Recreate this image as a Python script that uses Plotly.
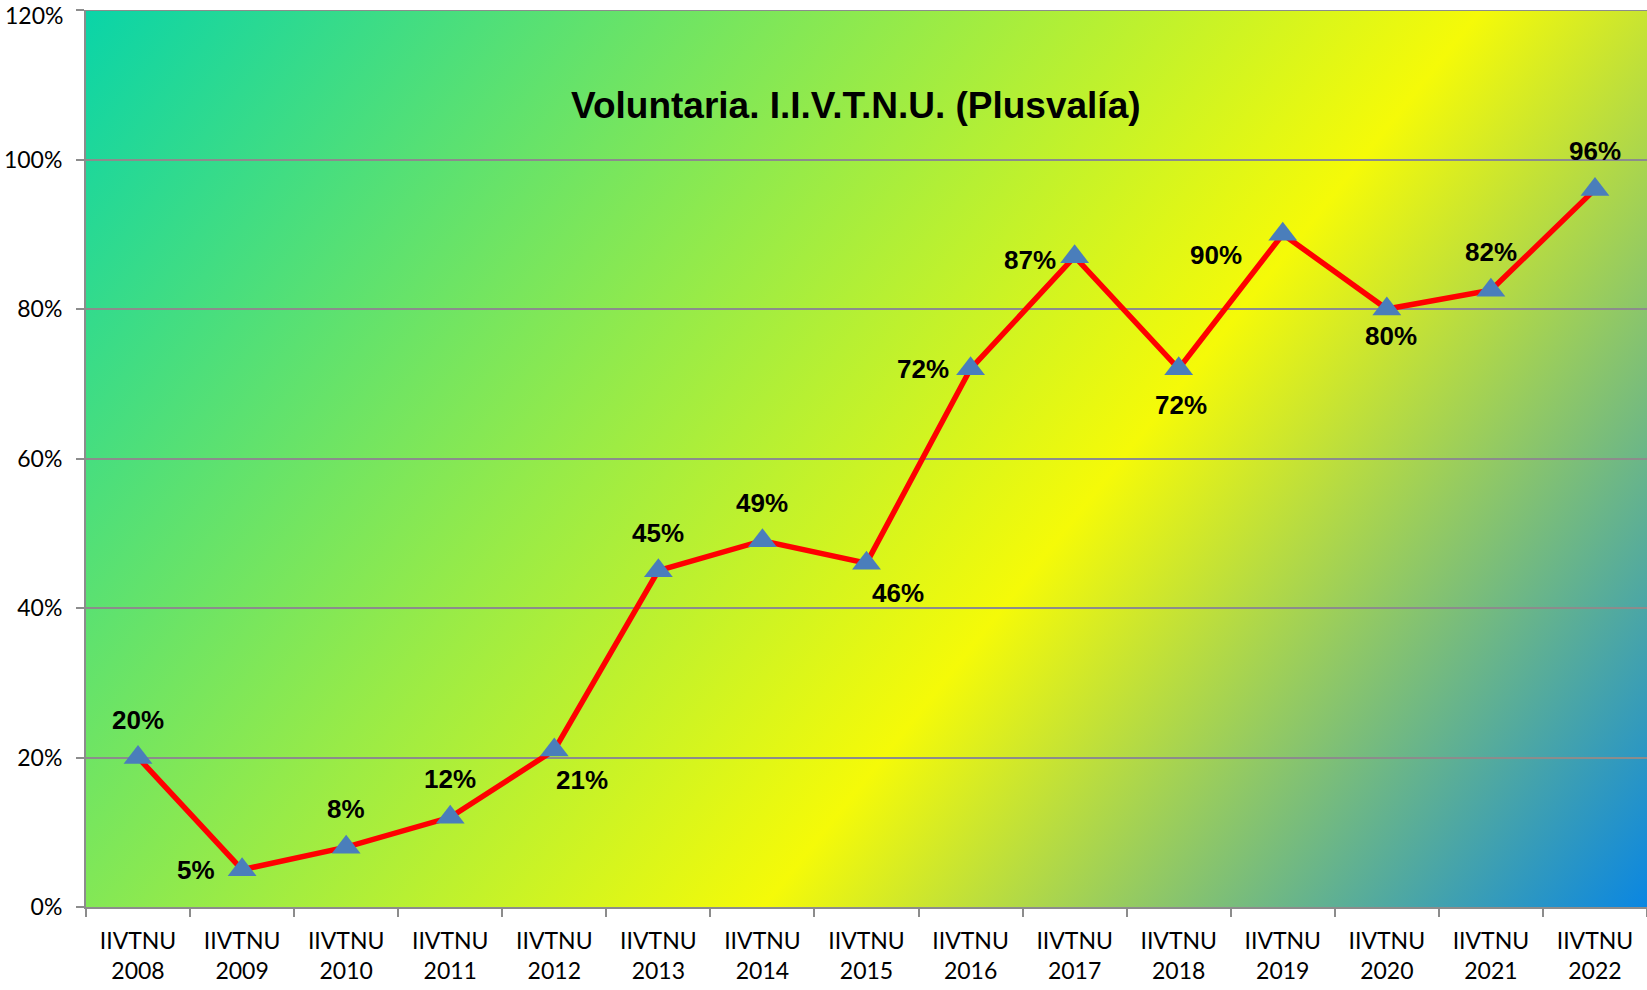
import base64

import plotly.graph_objects as go

# --- data ------------------------------------------------------------------
years = ["2008", "2009", "2010", "2011", "2012", "2013", "2014", "2015",
         "2016", "2017", "2018", "2019", "2020", "2021", "2022"]
values = [0.20, 0.05, 0.08, 0.12, 0.21, 0.45, 0.49, 0.46,
          0.72, 0.87, 0.72, 0.90, 0.80, 0.825, 0.96]
labels = ["20%", "5%", "8%", "12%", "21%", "45%", "49%", "46%",
          "72%", "87%", "72%", "90%", "80%", "82%", "96%"]
y_ticks = [0, 0.2, 0.4, 0.6, 0.8, 1.0, 1.2]
y_tick_text = ["0%", "20%", "40%", "60%", "80%", "100%", "120%"]

# pixel nudges for the data labels (style only), one (dx, dy) per point
label_shift = [(0, 38), (-46, 0), (0, 38), (0, 38), (28, -30), (0, 38), (0, 38), (31, -30),
               (-48, 0), (-45, -3), (2, -36), (-67, -21), (4, -27), (0, 38), (0, 38)]

categories = [f"IIVTNU<br>{y}" for y in years]

W, H = 1647, 990
M_L, M_T, M_R, M_B = 86, 10, 0, 83
PW, PH = W - M_L - M_R, H - M_T - M_B

# diagonal teal -> yellow -> blue fill behind the plot area (Excel-style gradient)
svg = f"""<svg xmlns="http://www.w3.org/2000/svg" width="{PW}" height="{PH}" viewBox="0 0 {PW} {PH}" preserveAspectRatio="none">
<defs><linearGradient id="g" gradientUnits="userSpaceOnUse" x1="0" y1="0" x2="1390" y2="1112">
<stop offset="0" stop-color="#0ad4a8"/>
<stop offset="0.612" stop-color="#f5fa08"/>
<stop offset="1" stop-color="#0a86e2"/>
</linearGradient></defs>
<rect x="0" y="0" width="{PW}" height="{PH}" fill="url(#g)"/></svg>"""
bg_uri = "data:image/svg+xml;base64," + base64.b64encode(svg.encode()).decode()

fig = go.Figure(go.Scatter(
    x=categories, y=values, mode="lines+markers",
    line=dict(color="#ff0000", width=5.5),
    marker=dict(symbol="triangle-up", size=25, color="#4a7ebb"),
    cliponaxis=False, showlegend=False,
))

for cat, val, lab, (dx, dy) in zip(categories, values, labels, label_shift):
    fig.add_annotation(
        x=cat, y=val, text=lab, showarrow=False, xshift=dx, yshift=dy,
        font=dict(family="Liberation Sans, Arial", size=26, color="black", weight="bold"),
    )

fig.add_layout_image(dict(
    source=bg_uri, xref="paper", yref="paper", x=0, y=1, sizex=1, sizey=1,
    sizing="stretch", xanchor="left", yanchor="top", layer="below",
))

axis_grey = "#8c8c8c"
tick_font = dict(family="Lato", size=23, color="black")

# plotly skips the gridline sitting on the top edge, so draw the 120% one
fig.add_shape(type="line", xref="paper", yref="y", x0=0, x1=1, y0=y_ticks[-1], y1=y_ticks[-1],
              line=dict(color=axis_grey, width=2), layer="below")
# top tick label would be clipped by the page edge; pin it just inside instead
fig.add_annotation(
    text=y_tick_text[-1], xref="paper", yref="y", x=0, y=y_ticks[-1],
    xanchor="right", yanchor="top", xshift=-21, yshift=11, showarrow=False, font=tick_font,
)

fig.add_annotation(
    text="Voluntaria. I.I.V.T.N.U. (Plusvalía)", xref="paper", yref="paper",
    x=0.493, y=0.893, xanchor="center", yanchor="middle", showarrow=False,
    font=dict(family="Liberation Sans, Arial", size=37, color="black", weight="bold"),
)

fig.update_xaxes(
    type="category", range=[-0.5, len(years) - 0.5], automargin=False,
    showline=True, linecolor=axis_grey, linewidth=2,
    ticks="outside", tickson="boundaries", ticklen=8, tickcolor=axis_grey, tickwidth=2,
    showgrid=False, tickfont=tick_font, ticklabelstandoff=12,
)
fig.update_yaxes(
    range=[0, 1.2], tickvals=y_ticks, ticktext=y_tick_text[:-1] + [""], automargin=False,
    showline=True, linecolor=axis_grey, linewidth=2,
    ticks="outside", ticklen=8, tickcolor=axis_grey, tickwidth=2,
    showgrid=True, gridcolor=axis_grey, gridwidth=2, zeroline=False,
    tickfont=tick_font, ticklabelstandoff=9, ticklabeloverflow="allow",
)
fig.update_layout(
    width=W, height=H, margin=dict(l=M_L, t=M_T, r=M_R, b=M_B),
    paper_bgcolor="white", plot_bgcolor="rgba(0,0,0,0)",
)

# drop the browser's default 8px body margin so the figure sits at the page corner
fig.write_html("out.html", config={"displayModeBar": False},
               post_script="document.body.style.margin = '0';")
